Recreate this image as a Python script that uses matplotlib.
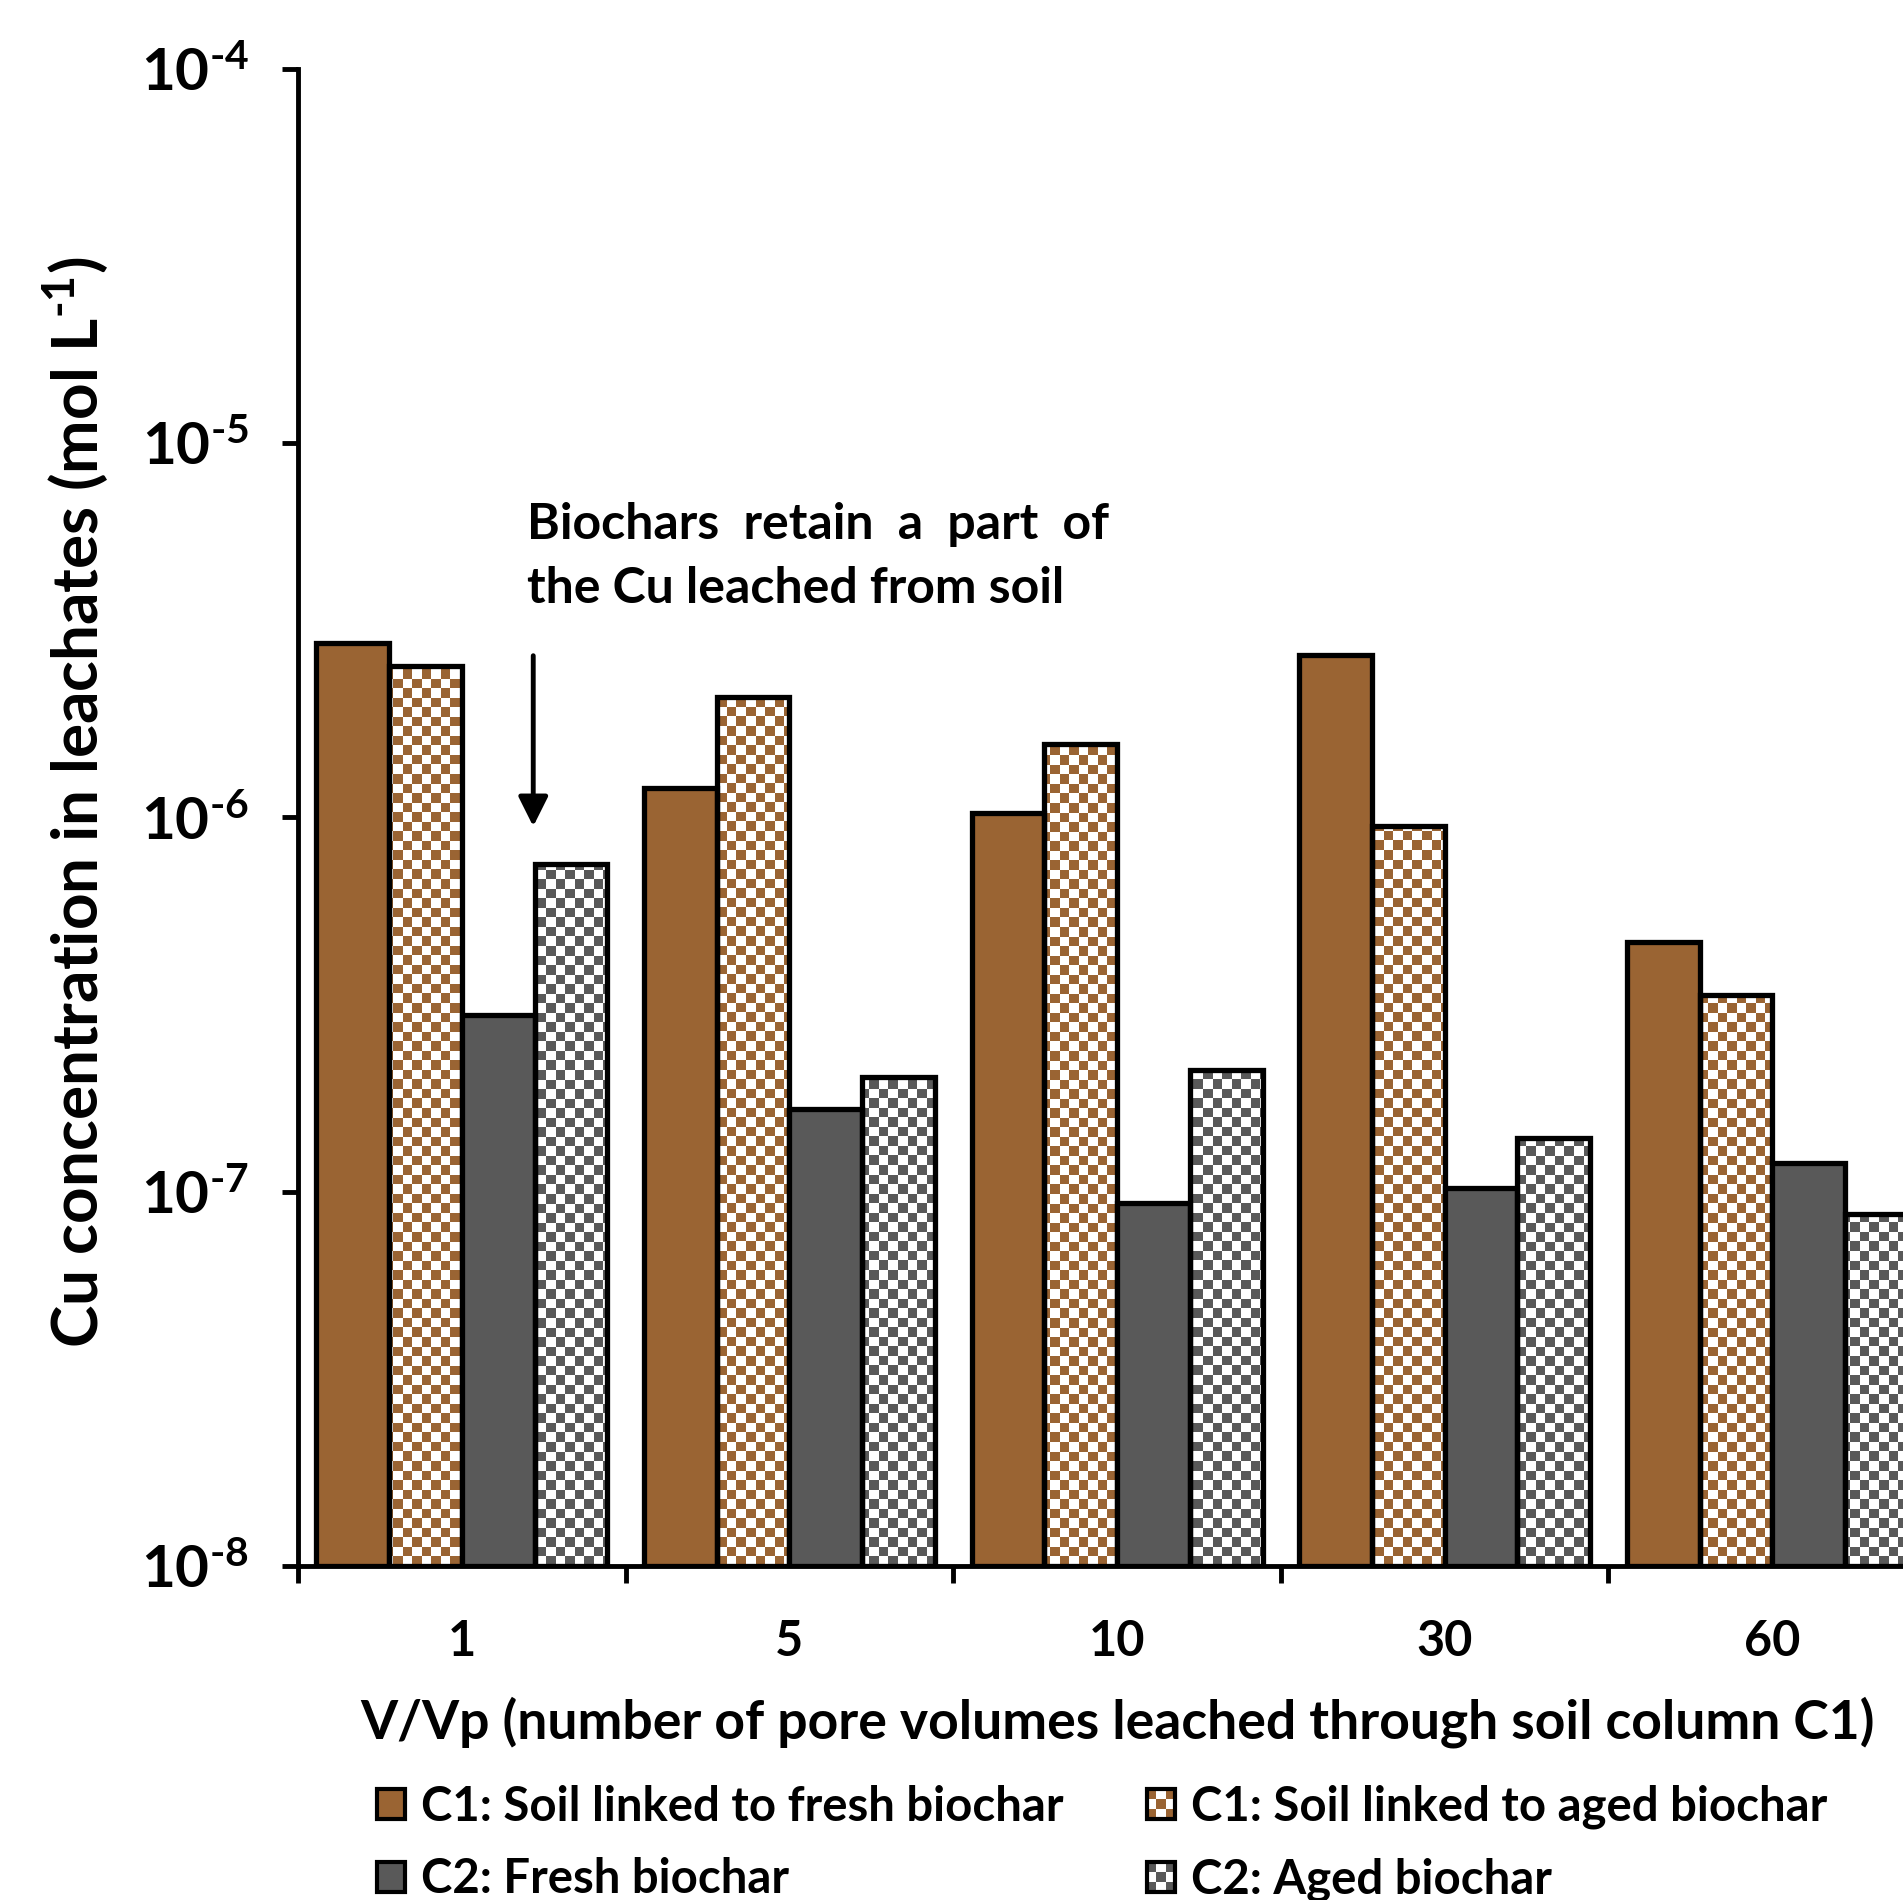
import numpy as np
import matplotlib.pyplot as plt
from matplotlib.patches import Rectangle, Patch
from matplotlib.legend_handler import HandlerBase
from matplotlib.ticker import NullLocator

plt.rcParams['font.family'] = ['Lato', 'DejaVu Sans']
plt.rcParams['font.weight'] = 'bold'
plt.rcParams['axes.labelweight'] = 'bold'
plt.rcParams['mathtext.fontset'] = 'custom'
plt.rcParams['mathtext.rm'] = 'Lato:bold'
plt.rcParams['mathtext.it'] = 'Lato:bold'
plt.rcParams['mathtext.bf'] = 'Lato:bold'

categories = ['1', '5', '10', '30', '60']
c1_fresh = [2.92e-6, 1.20e-6, 1.03e-6, 2.71e-6, 4.65e-7]
c1_aged = [2.53e-6, 2.10e-6, 1.57e-6, 9.5e-7, 3.35e-7]
c2_fresh = [2.97e-7, 1.66e-7, 9.3e-8, 1.02e-7, 1.19e-7]
c2_aged = [7.5e-7, 2.03e-7, 2.12e-7, 1.39e-7, 8.7e-8]
series_labels = ['C1: Soil linked to fresh biochar', 'C1: Soil linked to aged biochar',
                 'C2: Fresh biochar', 'C2: Aged biochar']
ytick_vals = [1e-8, 1e-7, 1e-6, 1e-5, 1e-4]
ytick_exp = ['8', '7', '6', '5', '4']

brown = '#9A6433'
gray = '#595959'
ymin = 1e-8

fig = plt.figure(figsize=(19.03, 19.0), dpi=100)
ax = fig.add_axes([0.1566, 0.1758, 0.8608, 0.788])
ax.set_yscale('log')

# checker image covering the whole axes, clipped to bars later
ax_w = fig.get_figwidth() * fig.dpi * 0.8608
ax_h = fig.get_figheight() * fig.dpi * 0.788
cell = 9.5


def checker_img(color):
    nx = int(ax_w / cell)
    ny = int(ax_h / cell)
    ii, jj = np.meshgrid(np.arange(nx), np.arange(ny))
    mask = (ii + jj) % 2 == 0
    rgb = np.array(plt.matplotlib.colors.to_rgb(color))
    img = np.ones((ny, nx, 3))
    img[mask] = rgb
    return img


x = np.arange(len(categories))
w = 0.222
series = [c1_fresh, c1_aged, c2_fresh, c2_aged]
fills = [brown, 'none', gray, 'none']
checks = [None, brown, None, gray]

for k, (vals, fc, chk) in enumerate(zip(series, fills, checks)):
    pos = x + (k - 1.5) * w
    heights = np.array(vals) - ymin
    bars = ax.bar(pos, heights, w, bottom=ymin, facecolor=fc, edgecolor='black',
                  linewidth=3.8, zorder=3)
    if chk is not None:
        img = checker_img(chk)
        for b in bars:
            im = ax.imshow(img, extent=(0, 1, 0, 1), transform=ax.transAxes,
                           interpolation='nearest', aspect='auto', zorder=2)
            im.set_clip_path(b)

ax.set_xlim(-0.5, 4.5)
ax.set_ylim(1e-8, 1e-4)

ax.set_yticks(ytick_vals)
ax.set_yticklabels([r'$10^{\text{-}%s}$' % e for e in ytick_exp])
ax.yaxis.set_minor_locator(NullLocator())
ax.tick_params(axis='y', labelsize=42, length=11.5, width=3.5, pad=24)

ax.set_xticks(np.arange(-0.5, 5, 1))
ax.set_xticklabels([])
ax.set_xticks(x, minor=True)
ax.set_xticklabels(categories, minor=True)
ax.tick_params(axis='x', which='major', length=12, width=3.5)
ax.tick_params(axis='x', which='minor', length=0, labelsize=35, pad=38)

for s in ['top', 'right']:
    ax.spines[s].set_visible(False)
ax.spines['left'].set_linewidth(3.5)
ax.spines['bottom'].set_linewidth(3.5)

ax.set_ylabel(r'Cu concentration in leachates (mol L$^{\text{-}1}$)', fontsize=46)
ax.yaxis.set_label_coords(-0.114, 0.51)
ax.set_xlabel('V/Vp (number of pore volumes leached through soil column C1)', fontsize=38.5)
ax.xaxis.set_label_coords(0.5, -0.087)

ax.text(0.2, 6.07e-6, 'Biochars  retain  a  part  of', fontsize=36, va='center', ha='left')
ax.text(0.2, 4.09e-6, 'the Cu leached from soil', fontsize=36, va='center', ha='left')
ax.annotate('', xy=(0.218, 9.3e-7), xytext=(0.218, 2.75e-6),
            arrowprops=dict(arrowstyle='-|>', lw=3.5, color='black', mutation_scale=45))


class HandlerChecker(HandlerBase):
    def __init__(self, color, n=3):
        super().__init__()
        self.color = color
        self.n = n

    def create_artists(self, legend, orig_handle, xdescent, ydescent, width, height, fontsize, trans):
        arts = []
        cw = width / self.n
        ch = height / self.n
        for i in range(self.n):
            for j in range(self.n):
                if (i + j) % 2 == 0:
                    arts.append(Rectangle((-xdescent + i * cw, -ydescent + j * ch), cw, ch,
                                          facecolor=self.color, edgecolor='none', transform=trans))
        arts.append(Rectangle((-xdescent, -ydescent), width, height, facecolor='none',
                              edgecolor='black', lw=3, transform=trans))
        return arts


h1 = Patch(facecolor=brown, edgecolor='black', lw=3)
h2 = Patch(facecolor='white', edgecolor='black', lw=3)
h3 = Patch(facecolor=gray, edgecolor='black', lw=3)
h4 = Patch(facecolor='white', edgecolor='black', lw=3, label='x')
handles = [h1, h3, h2, h4]
labs = [series_labels[0], series_labels[2], series_labels[1], series_labels[3]]
fig.legend(handles, labs, loc='upper left', bbox_to_anchor=(0.1855, 0.073), ncol=2,
           frameon=False, fontsize=34, handlelength=0.6, handleheight=0.6,
           handletextpad=0.35, columnspacing=1.75, labelspacing=0.6, borderpad=0,
           handler_map={h2: HandlerChecker(brown), h4: HandlerChecker(gray)})

fig.savefig('out.png', dpi=100)
